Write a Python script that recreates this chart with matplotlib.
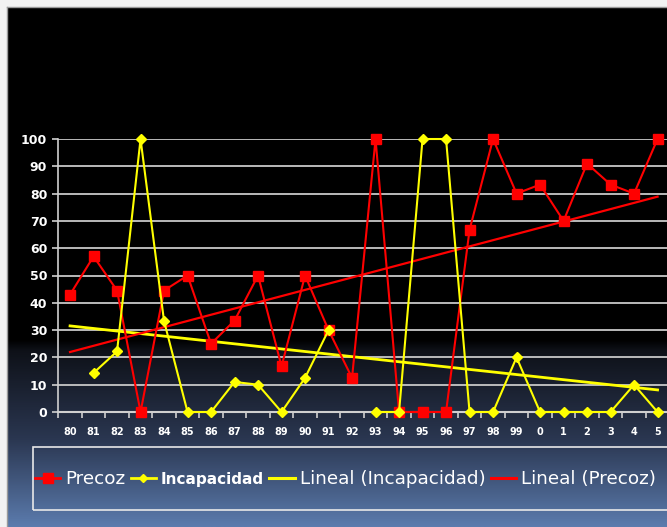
import numpy as np
import matplotlib.pyplot as plt
from matplotlib.colors import LinearSegmentedColormap
from matplotlib.lines import Line2D
from matplotlib.patches import Rectangle

# años (categorías del eje x)
years = ["80", "81", "82", "83", "84", "85", "86", "87", "88", "89",
         "90", "91", "92", "93", "94", "95", "96", "97", "98", "99",
         "0", "1", "2", "3", "4", "5"]

# porcentajes por año
precoz = [43, 57, 44.5, 0, 44.5, 50, 25, 33.5, 50, 16.7,
          50, 30, 12.5, 100, 0, 0, 0, 66.7, 100, 80,
          83.3, 70, 91, 83.3, 80, 100]
incapacidad = [np.nan, 14.3, 22.2, 100, 33.3, 0, 0, 11, 10, 0,
               12.5, 30, np.nan, 0, 0, 100, 100, 0, 0, 20,
               0, 0, 0, 0, 10, 0]

yticks = [0, 10, 20, 30, 40, 50, 60, 70, 80, 90, 100]

RED = "#ff0000"
YEL = "#ffff00"

fig = plt.figure(figsize=(6.67, 5.27), dpi=100, facecolor="#f2f2f2")

# fondo: negro arriba y degradado azul abajo
bg = fig.add_axes([8 / 667, 0, 1 - 8 / 667, 1 - 8 / 527])
bg.set_axis_off()
cmap = LinearSegmentedColormap.from_list(
    "fondo", [(0, "#000000"), (0.64, "#000000"), (0.66, "#0e1118"),
              (0.83, "#2a3650"), (1.0, "#5b7bad")])
grad = np.linspace(0, 1, 256).reshape(-1, 1)
bg.imshow(grad, aspect="auto", cmap=cmap, extent=[0, 1, 0, 1], origin="upper")
bg.set_xlim(0, 1)
bg.set_ylim(0, 1)
fig.add_artist(Line2D([7 / 667, 7 / 667], [0, 1 - 7 / 527], transform=fig.transFigure,
                      color="#9a9a9a", lw=1))
fig.add_artist(Line2D([7 / 667, 1], [1 - 7 / 527, 1 - 7 / 527], transform=fig.transFigure,
                      color="#9a9a9a", lw=1))

ax = fig.add_axes([58.3 / 667, 1 - 412 / 527, 611 / 667, 273 / 527])
ax.patch.set_alpha(0)

x = np.arange(len(years))
ax.set_xlim(-0.5, len(years) - 0.5)
ax.set_ylim(0, 100)

# líneas de tendencia (ajuste lineal)
p = np.array(precoz, dtype=float)
i = np.array(incapacidad, dtype=float)
ok = ~np.isnan(i)
cp = np.polyfit(x, p, 1)
ci = np.polyfit(x[ok], i[ok], 1)

ax.plot(x, np.polyval(ci, x), color=YEL, lw=2.0, zorder=2)
ax.plot(x, np.polyval(cp, x), color=RED, lw=1.6, zorder=2)

ax.plot(x, p, color=RED, lw=1.5, marker="s", ms=7.5, mec=RED, mfc=RED,
        clip_on=False, zorder=3)
ax.plot(x, i, color=YEL, lw=1.5, marker="D", ms=5, mec=YEL, mfc=YEL,
        clip_on=False, zorder=4)

ax.set_yticks(yticks)
ax.set_yticklabels([str(v) for v in yticks], color="white", fontsize=9,
                   fontweight="bold")
ax.grid(axis="y", color="#c8c8c8", lw=1.3)
ax.set_axisbelow(True)

ax.set_xticks(x)
ax.set_xticklabels(years, color="white", fontsize=7, fontweight="bold")
ax.set_xticks(np.arange(len(years) + 1) - 0.5, minor=True)
ax.tick_params(axis="x", which="major", length=0, pad=11)
ax.tick_params(axis="x", which="minor", length=4, color="#d0d0d0", width=1.2)
ax.tick_params(axis="y", length=4, color="#d0d0d0", width=1.2, pad=4)

for s in ["top", "right"]:
    ax.spines[s].set_visible(False)
ax.spines["left"].set_color("#d0d0d0")
ax.spines["bottom"].set_color("#d0d0d0")
ax.spines["left"].set_linewidth(1.2)
ax.spines["bottom"].set_linewidth(1.5)

# recuadro de la leyenda
fig.add_artist(Rectangle((33 / 667, 1 - 510 / 527), 1, 63 / 527, transform=fig.transFigure,
                         fill=False, edgecolor="#e8e8e8", lw=1.2))

handles = [
    Line2D([], [], color=RED, lw=2, marker="s", ms=7, mec=RED),
    Line2D([], [], color=YEL, lw=2, marker="D", ms=4.5, mec=YEL),
    Line2D([], [], color=YEL, lw=2.2),
    Line2D([], [], color=RED, lw=2.2),
]
labels = ["Precoz", "Incapacidad", "Lineal (Incapacidad)", "Lineal (Precoz)"]
leg = fig.legend(handles, labels, loc="center left", ncol=4,
                 bbox_to_anchor=(35 / 667, 1 - 479 / 527),
                 frameon=False, fontsize=13.2, handlelength=1.38, handletextpad=0.28,
                 columnspacing=0.28, borderpad=0, borderaxespad=0)
for t in leg.get_texts():
    t.set_color("white")
leg.get_texts()[1].set_fontsize(11)
leg.get_texts()[1].set_fontweight("bold")

fig.savefig("out.png", dpi=100, facecolor=fig.get_facecolor())
